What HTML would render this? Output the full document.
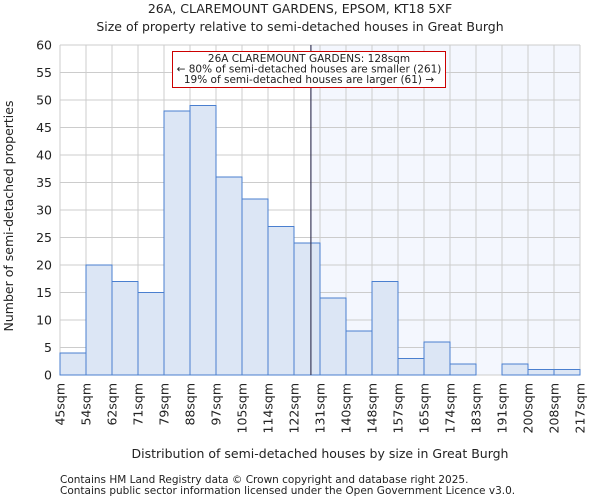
<!DOCTYPE html>
<html><head><meta charset="utf-8"><style>
body{margin:0;background:#fff;font-family:"DejaVu Sans","Liberation Sans",sans-serif;}
text{font-family:"DejaVu Sans","Liberation Sans",sans-serif;fill:#222;}
</style></head><body>
<svg id="chart" width="600" height="500" xmlns="http://www.w3.org/2000/svg">
<text x="300" y="13" font-size="12.5" text-anchor="middle">26A, CLAREMOUNT GARDENS, EPSOM, KT18 5XF</text>
<text x="300" y="31" font-size="12.5" text-anchor="middle">Size of property relative to semi-detached houses in Great Burgh</text>
<g id="plot"></g>
<text x="320" y="458" font-size="12.5" text-anchor="middle">Distribution of semi-detached houses by size in Great Burgh</text>
<text x="0" y="0" font-size="12.5" text-anchor="middle" transform="translate(13,216) rotate(-90)">Number of semi-detached properties</text>
<text x="60" y="483" font-size="10.5" fill="#444">Contains HM Land Registry data © Crown copyright and database right 2025.</text>
<text x="60" y="494" font-size="10.5" fill="#444">Contains public sector information licensed under the Open Government Licence v3.0.</text>
</svg>
<script>
const categories=["45sqm","54sqm","62sqm","71sqm","79sqm","88sqm","97sqm","105sqm","114sqm","122sqm","131sqm","140sqm","148sqm","157sqm","165sqm","174sqm","183sqm","191sqm","200sqm","208sqm","217sqm"];
const counts=[4,20,17,15,48,49,36,32,27,24,14,8,17,3,6,2,0,2,1,1];
const yTicks=[0,5,10,15,20,25,30,35,40,45,50,55,60];
const markerBin=9.65;
const NS="http://www.w3.org/2000/svg";
const L=60,R=580,T=45,B=375,yMax=60;
const bw=(R-L)/counts.length;
const xs=i=>L+i*bw;
const ys=v=>B-(B-T)*v/yMax;
const g=document.getElementById('plot');
function mk(tag,at){const e=document.createElementNS(NS,tag);for(const k in at)e.setAttribute(k,at[k]);g.appendChild(e);return e;}
const mx=xs(markerBin);
let e=mk('rect',{x:mx,y:T,width:R-mx,height:B-T,fill:'#f4f7fe'});


yTicks.forEach(t=>{
 let l=mk('line',{x1:L,x2:R,y1:ys(t),y2:ys(t),stroke:'#cccccc','stroke-width':1});
 
 
 let tx=mk('text',{x:L-8,y:ys(t)+4.5,'font-size':12.5,'text-anchor':'end'});tx.textContent=t;
 
 
});
categories.forEach((c,i)=>{
 let l=mk('line',{x1:xs(i),x2:xs(i),y1:T,y2:B,stroke:'#cccccc','stroke-width':1});
 
 
 let tx=mk('text',{x:0,y:0,'font-size':12.5,'text-anchor':'end',transform:`translate(${xs(i)+4.5},${B+8}) rotate(-90)`});tx.textContent=c;
 
 
});
counts.forEach((v,i)=>{
 if(v<=0)return;
 let r=mk('rect',{x:xs(i),y:ys(v),width:bw,height:B-ys(v),fill:'#dce6f5',stroke:'#4a7fcf','stroke-width':1});
 
 
});
e=mk('line',{x1:mx,x2:mx,y1:T,y2:B,stroke:'#3a3a5a','stroke-width':1.2});


e=mk('rect',{x:172.5,y:51.5,width:273,height:36,fill:'#fff',stroke:'#cc0000','stroke-width':1});


["26A CLAREMOUNT GARDENS: 128sqm","← 80% of semi-detached houses are smaller (261)","19% of semi-detached houses are larger (61) →"].forEach((s,i)=>{
 let t=mk('text',{x:309,y:62+i*10.5,'font-size':10.5,'text-anchor':'middle'});t.textContent=s;
 
 
});
</script>
</body></html>
